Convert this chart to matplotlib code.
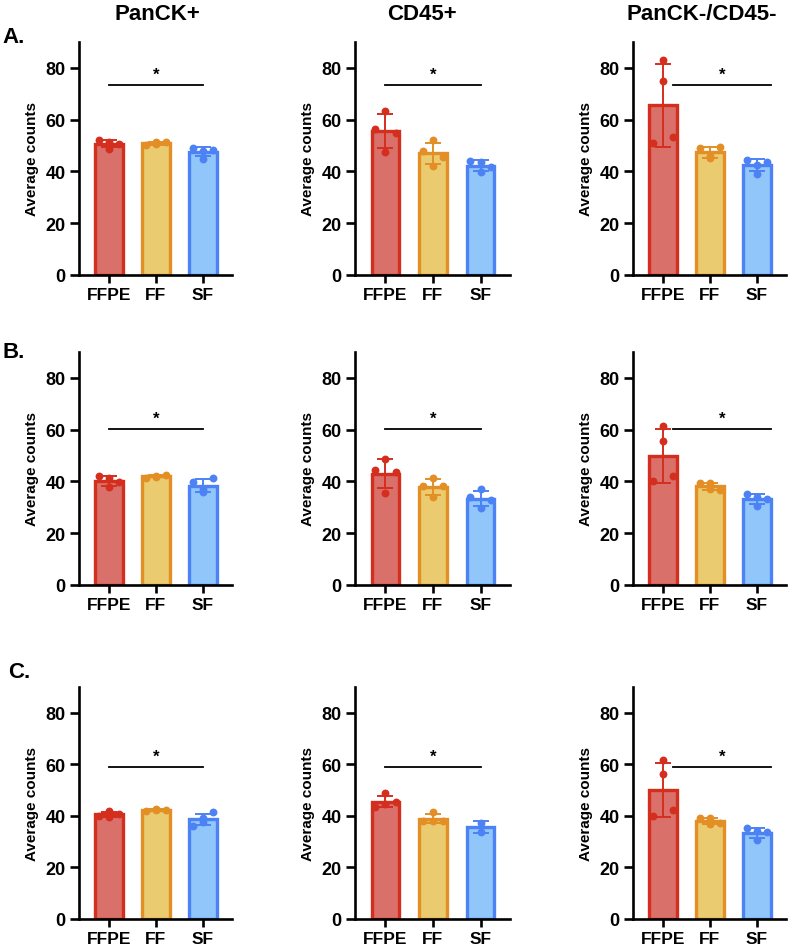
import numpy as np
import matplotlib
matplotlib.use("Agg")
import matplotlib.pyplot as plt

plt.rcParams['font.family'] = ['Liberation Sans', 'DejaVu Sans']
plt.rcParams['font.weight'] = 'bold'

groups = ["FFPE", "FF", "SF"]
column_titles = ["PanCK+", "CD45+", "PanCK-/CD45-"]
row_labels = ["A.", "B.", "C."]
y_ticks = [0, 20, 40, 60, 80]
y_label = "Average counts"

# Replicate values per panel: [row][col][group]
row_a_panck = [[51.2, 52.1, 50.6, 48.8], [51.2, 50.3, 51.4, 50.6], [48.0, 49.0, 48.4, 45.0]]
row_a_cd45 = [[63.4, 56.4, 54.8, 47.4], [52.2, 47.8, 45.7, 42.2], [43.8, 43.9, 41.6, 39.8]]
row_a_neg = [[82.9, 50.9, 53.2, 75.1], [45.3, 49.2, 49.4, 46.0], [42.6, 44.4, 43.5, 39.0]]

row_b_panck = [[41.2, 42.0, 39.6, 38.0], [42.2, 41.5, 42.3, 41.7], [37.1, 39.6, 41.2, 35.8]]
row_b_cd45 = [[48.7, 44.4, 43.5, 35.5], [41.3, 38.4, 38.4, 33.9], [37.1, 33.9, 32.9, 29.7]]
row_b_neg = [[61.4, 40.1, 42.2, 55.8], [39.3, 39.3, 36.8, 37.1], [33.9, 35.1, 33.2, 30.6]]

row_c_panck = [[41.8, 40.1, 40.8, 39.5], [42.6, 42.0, 42.4, 42.2], [39.1, 36.2, 41.4, 37.8]]
row_c_cd45 = [[48.8, 43.4, 45.3, 44.8], [41.4, 38.2, 38.2, 37.9], [37.4, 33.9]]
row_c_neg = [[61.7, 40.1, 42.3, 56.1], [39.2, 39.2, 37.3, 36.9], [34.0, 35.3, 33.7, 30.7]]

panels = [[row_a_panck, row_a_cd45, row_a_neg],
          [row_b_panck, row_b_cd45, row_b_neg],
          [row_c_panck, row_c_cd45, row_c_neg]]

# significance bars: y per row, x span per column
sig_y = [73.4, 60.2, 59.0]
sig_x = [(0, 2), (0, 2), (0.22, 2.3)]

fills = ["#D9706A", "#EACB6F", "#90C6FA"]
edges = ["#D42E1E", "#E38F25", "#4D82F5"]

W, H = 790, 953
fig = plt.figure(figsize=(W / 100, H / 100), dpi=100)

col_left = [79, 355, 633]
col_w = [153, 155, 153]
row_bottom = [276, 586, 920]
row_h = [233, 233, 232]

offsets4 = [0, -0.22, 0.22, 0]

for r in range(3):
    for c in range(3):
        ax = fig.add_axes([col_left[c] / W, 1 - row_bottom[r] / H, col_w[c] / W, row_h[r] / H])
        data = panels[r][c]
        xs = np.arange(len(groups))
        for g in range(3):
            vals = np.array(data[g])
            m = vals.mean()
            sd = vals.std(ddof=1)
            ax.bar(xs[g], m, width=0.58, color=fills[g], edgecolor=edges[g], linewidth=2.4, zorder=2)
            ax.errorbar(xs[g], m, yerr=sd, color=edges[g], capsize=6, capthick=1.4,
                        elinewidth=1.4, zorder=3, fmt='none')
            offs = offsets4 if len(vals) == 4 else [0] * len(vals)
            ax.scatter(xs[g] + np.array(offs), vals, s=32, color=edges[g], zorder=4, linewidths=0)
        x0, x1 = sig_x[c]
        ax.plot([x0, x1], [sig_y[r], sig_y[r]], color='black', lw=1.3, zorder=5)
        ax.text((x0 + x1) / 2, sig_y[r] + 1.2, "*", ha='center', va='bottom', fontsize=12,
                fontweight='bold')
        ax.set_xlim(-0.64, 2.62)
        ax.set_ylim(0, 90)
        ax.set_yticks(y_ticks)
        ax.set_xticks(xs)
        ax.set_xticklabels(groups, fontsize=12.5, fontweight='bold')
        ax.tick_params(axis='y', labelsize=13, length=6.5, width=1.9, pad=3)
        ax.tick_params(axis='x', length=6, width=1.9, pad=3)
        for lab in ax.get_yticklabels():
            lab.set_fontweight('bold')
        ax.spines['top'].set_visible(False)
        ax.spines['right'].set_visible(False)
        ax.spines['left'].set_linewidth(1.9)
        ax.spines['bottom'].set_linewidth(1.9)
        ax.set_ylabel(y_label, fontsize=11, fontweight='bold', labelpad=5)

title_x = [157, 422, 702]
for c in range(3):
    fig.text(title_x[c] / W, 1 - 14 / H, column_titles[c], ha='center', va='center',
             fontsize=16, fontweight='bold')

label_pos = [(2, 38), (2, 352), (8, 672)]
for r in range(3):
    fig.text(label_pos[r][0] / W, 1 - label_pos[r][1] / H, row_labels[r], ha='left', va='center',
             fontsize=16, fontweight='bold')

fig.savefig("out.png", dpi=100)
